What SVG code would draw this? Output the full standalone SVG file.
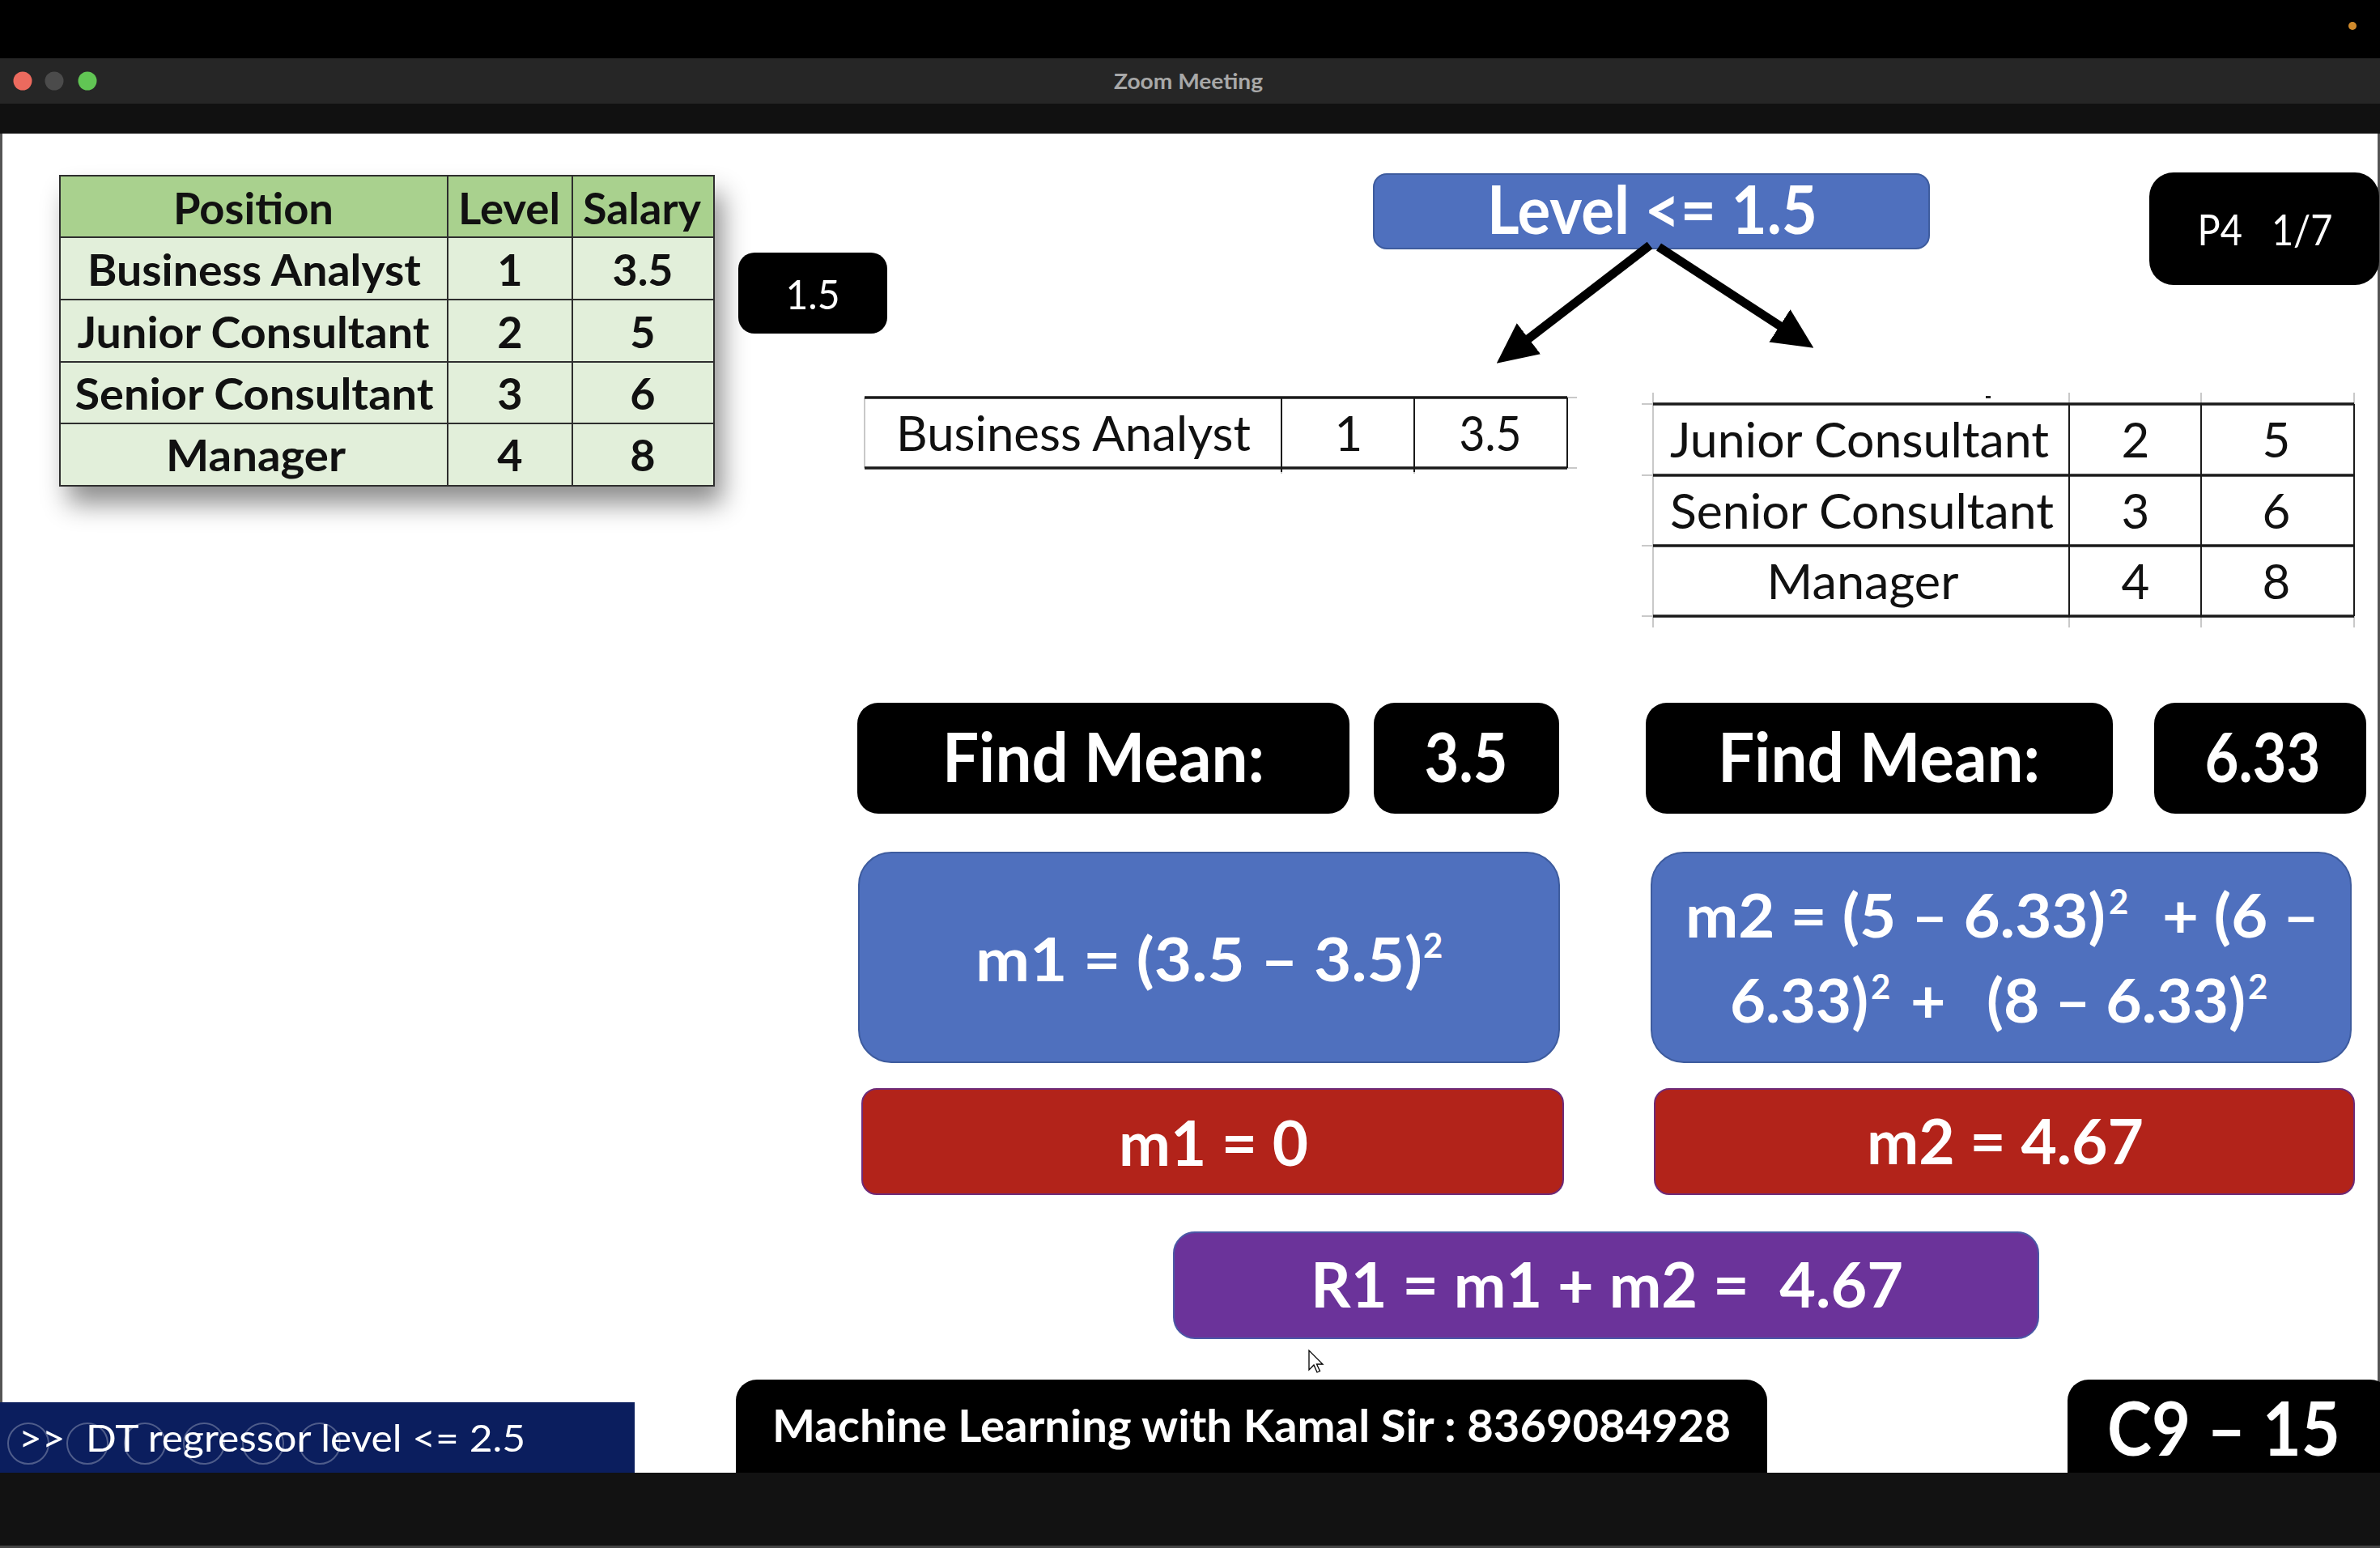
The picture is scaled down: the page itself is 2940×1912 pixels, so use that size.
<svg xmlns="http://www.w3.org/2000/svg" width="2940" height="1912" viewBox="0 0 2940 1912">
<defs>
<style>
text{font-family:Lato,"Liberation Sans",sans-serif}
.b{font-weight:700}
.w{fill:#fff}
.d{fill:#111}
.m{text-anchor:middle}
.blk{fill:#000}
.blue{fill:#4f70be;stroke:#3e5c9e;stroke-width:2}
.red{fill:#b2231a;stroke:#6e2a78;stroke-width:2}
.grid{stroke:#2e2e2e;stroke-width:2;fill:none}
.thick{stroke:#1a1a1a;stroke-width:3.5}
.thin{stroke:#1a1a1a;stroke-width:2}
.faint{stroke:#c9c9c9;stroke-width:2}
.arrow{stroke:#000;stroke-width:11;fill:none}
.ring{fill:none;stroke:#fff;stroke-opacity:0.28;stroke-width:2}
</style>
<filter id="sh" x="-10%" y="-10%" width="130%" height="150%"><feDropShadow dx="10" dy="22" stdDeviation="16" flood-color="#000" flood-opacity="0.45"/></filter>
<marker id="ah" markerUnits="userSpaceOnUse" markerWidth="50" markerHeight="48" viewBox="0 0 50 48" refX="3" refY="24" orient="auto"><path d="M0,0 L50,24 L0,48 Z" fill="#000"/></marker>
</defs>

<!-- window chrome -->
<g id="chrome">
<rect x="0" y="0" width="2940" height="72" fill="#000"/>
<circle cx="2906" cy="32" r="5" fill="#d08a2c"/>
<rect x="0" y="72" width="2940" height="56" fill="#262626"/>
<circle cx="28" cy="100" r="11.5" fill="#ec6a5e"/>
<circle cx="67" cy="100" r="11.5" fill="#4b4b4b"/>
<circle cx="108" cy="100" r="11.5" fill="#61c554"/>
<text x="1468" y="110" class="m b" font-size="27" fill="#a8a8a8" textLength="184" lengthAdjust="spacingAndGlyphs">Zoom Meeting</text>
<rect x="0" y="128" width="2940" height="37" fill="#111"/>
<rect x="0" y="165" width="2940" height="1654" fill="#fff"/>
<rect x="0" y="165" width="3" height="1654" fill="#555"/>
<rect x="2937" y="165" width="3" height="1654" fill="#555"/>
</g>

<!-- source table -->
<g id="source-table">
<rect x="74" y="217" width="808" height="383" fill="#e2efda" filter="url(#sh)"/>
<rect x="74" y="217" width="808" height="76" fill="#a9d18e"/>
<rect x="74" y="217" width="808" height="383" class="grid"/>
<path class="grid" d="M553,217V600M707,217V600M74,293H882M74,370H882M74,447H882M74,523H882"/>
<text x="313" y="277" class="m b d" font-size="54" textLength="198" lengthAdjust="spacingAndGlyphs">Position</text>
<text x="629" y="277" class="m b d" font-size="54" textLength="126" lengthAdjust="spacingAndGlyphs">Level</text>
<text x="793" y="277" class="m b d" font-size="54" textLength="146" lengthAdjust="spacingAndGlyphs">Salary</text>
<text x="314" y="353" class="m b d" font-size="54" textLength="412" lengthAdjust="spacingAndGlyphs">Business Analyst</text>
<text x="313" y="430" class="m b d" font-size="54" textLength="435" lengthAdjust="spacingAndGlyphs">Junior Consultant</text>
<text x="314" y="506" class="m b d" font-size="54" textLength="443" lengthAdjust="spacingAndGlyphs">Senior Consultant</text>
<text x="316" y="582" class="m b d" font-size="54" textLength="222" lengthAdjust="spacingAndGlyphs">Manager</text>
<text x="630" y="353" class="m b d" font-size="54">1</text>
<text x="630" y="430" class="m b d" font-size="54">2</text>
<text x="630" y="506" class="m b d" font-size="54">3</text>
<text x="630" y="582" class="m b d" font-size="54">4</text>
<text x="794" y="353" class="m b d" font-size="54" textLength="75" lengthAdjust="spacingAndGlyphs">3.5</text>
<text x="794" y="430" class="m b d" font-size="54">5</text>
<text x="794" y="506" class="m b d" font-size="54">6</text>
<text x="794" y="582" class="m b d" font-size="54">8</text>
</g>

<g id="threshold">
<rect x="912" y="312" width="184" height="100" rx="20" class="blk"/>
<text x="1004" y="382" class="m w" font-size="50" textLength="67" lengthAdjust="spacingAndGlyphs">1.5</text>
</g>

<g id="split-node">
<rect x="1697" y="215" width="686" height="92" rx="16" class="blue"/>
<text x="2041" y="289" class="m b w" font-size="82" textLength="408" lengthAdjust="spacingAndGlyphs">Level &lt;= 1.5</text>
</g>

<g id="page-tag">
<rect x="2655" y="213" width="284" height="139" rx="30" class="blk"/>
<text x="2798" y="303" class="m w" font-size="52" xml:space="preserve" textLength="167" lengthAdjust="spacingAndGlyphs">P4   1/7</text>
</g>

<g id="connectors">
<path class="arrow" d="M2038,303 L1886,420" marker-end="url(#ah)"/>
<path class="arrow" d="M2049,305 L2201,404" marker-end="url(#ah)"/>
</g>

<g id="left-table">
<path class="faint" d="M1068,491V578M1936,491H1948M1936,578H1948M1583,578V585M1747,578V585"/>
<path class="thick" d="M1068,491H1936M1068,578H1936"/>
<path class="thin" d="M1583,491V583M1747,491V583M1936,491V578"/>
<text x="1326" y="557" class="m d" font-size="60" textLength="438" lengthAdjust="spacingAndGlyphs">Business Analyst</text>
<text x="1666" y="557" class="m d" font-size="60">1</text>
<text x="1841" y="557" class="m d" font-size="60" textLength="77" lengthAdjust="spacingAndGlyphs">3.5</text>
</g>

<g id="right-table">
<rect x="2453" y="489" width="6" height="3" fill="#222"/>
<path class="faint" d="M2042,485V775M2556,485V499M2719,485V499M2908,485V499M2556,761V775M2719,761V775M2908,761V775M2028,499H2042M2028,587H2042M2028,674H2042M2028,761H2042"/>
<path class="thick" d="M2042,499H2908M2042,587H2908M2042,674H2908M2042,761H2908"/>
<path class="thin" d="M2556,499V761M2719,499V761M2908,499V761"/>
<text x="2297" y="565" class="m d" font-size="60" textLength="468" lengthAdjust="spacingAndGlyphs">Junior Consultant</text>
<text x="2300" y="653" class="m d" font-size="60" textLength="474" lengthAdjust="spacingAndGlyphs">Senior Consultant</text>
<text x="2301" y="740" class="m d" font-size="60" textLength="237" lengthAdjust="spacingAndGlyphs">Manager</text>
<text x="2638" y="565" class="m d" font-size="60">2</text>
<text x="2638" y="653" class="m d" font-size="60">3</text>
<text x="2638" y="740" class="m d" font-size="60">4</text>
<text x="2812" y="565" class="m d" font-size="60">5</text>
<text x="2812" y="653" class="m d" font-size="60">6</text>
<text x="2812" y="740" class="m d" font-size="60">8</text>
</g>

<g id="mean-left">
<rect x="1059" y="868" width="608" height="137" rx="26" class="blk"/>
<text x="1363" y="966" class="m b w" font-size="85" textLength="398" lengthAdjust="spacingAndGlyphs">Find Mean:</text>
<rect x="1697" y="868" width="229" height="137" rx="26" class="blk"/>
<text x="1811" y="966" class="m b w" font-size="85" textLength="103" lengthAdjust="spacingAndGlyphs">3.5</text>
</g>

<g id="mean-right">
<rect x="2033" y="868" width="577" height="137" rx="26" class="blk"/>
<text x="2321" y="966" class="m b w" font-size="85" textLength="398" lengthAdjust="spacingAndGlyphs">Find Mean:</text>
<rect x="2661" y="868" width="262" height="137" rx="26" class="blk"/>
<text x="2795" y="966" class="m b w" font-size="85" textLength="143" lengthAdjust="spacingAndGlyphs">6.33</text>
</g>

<g id="m1-formula">
<rect x="1061" y="1053" width="865" height="259" rx="40" class="blue"/>
<text x="1205" y="1212" class="b w" font-size="75" textLength="552" lengthAdjust="spacingAndGlyphs">m1 = (3.5 – 3.5)</text>
<text x="1758" y="1183" class="b w" font-size="42">2</text>
</g>

<g id="m2-formula">
<rect x="2040" y="1053" width="864" height="259" rx="40" class="blue"/>
<text x="2082" y="1158" class="b w" font-size="75" textLength="519" lengthAdjust="spacingAndGlyphs">m2 = (5 – 6.33)</text>
<text x="2605" y="1129" class="b w" font-size="42">2</text>
<text x="2671" y="1158" class="b w" font-size="75" textLength="194" lengthAdjust="spacingAndGlyphs">+ (6 –</text>
<text x="2137" y="1263" class="b w" font-size="75" textLength="171" lengthAdjust="spacingAndGlyphs">6.33)</text>
<text x="2311" y="1234" class="b w" font-size="42">2</text>
<text x="2360" y="1263" class="b w" font-size="75">+</text>
<text x="2454" y="1263" class="b w" font-size="75" textLength="320" lengthAdjust="spacingAndGlyphs">(8 – 6.33)</text>
<text x="2777" y="1234" class="b w" font-size="42">2</text>
</g>

<g id="m1-result">
<rect x="1065" y="1345" width="866" height="130" rx="18" class="red"/>
<text x="1499" y="1440" class="m b w" font-size="77" textLength="234" lengthAdjust="spacingAndGlyphs">m1 = 0</text>
</g>

<g id="m2-result">
<rect x="2044" y="1345" width="864" height="130" rx="18" class="red"/>
<text x="2477" y="1438" class="m b w" font-size="77" textLength="342" lengthAdjust="spacingAndGlyphs">m2 = 4.67</text>
</g>

<g id="r1-result">
<rect x="1450" y="1522" width="1068" height="131" rx="26" fill="#6b339a" stroke="#4b58a6" stroke-width="2"/>
<text x="1985" y="1615" class="m b w" font-size="76" xml:space="preserve" textLength="732" lengthAdjust="spacingAndGlyphs">R1 = m1 + m2 =  4.67</text>
</g>

<g id="cursor">
<path d="M1617,1668 L1617,1692 L1623,1686 L1627,1695 L1630.5,1693.5 L1626.5,1685 L1634,1685 Z" fill="#fff" stroke="#000" stroke-width="1.3"/>
</g>

<g id="footer">
<rect x="909" y="1704" width="1274" height="150" rx="26" class="blk"/>
<text x="1546" y="1781" class="m b w" font-size="56" textLength="1184" lengthAdjust="spacingAndGlyphs">Machine Learning with Kamal Sir : 8369084928</text>
<rect x="2554" y="1704" width="400" height="150" rx="26" class="blk"/>
<text x="2747" y="1798" class="m b w" font-size="92" textLength="288" lengthAdjust="spacingAndGlyphs">C9 – 15</text>
<rect x="0" y="1732" width="784" height="87" fill="#0b1e5e"/>
<circle cx="35" cy="1783" r="25" class="ring"/>
<circle cx="108" cy="1783" r="25" class="ring"/>
<circle cx="179" cy="1783" r="25" class="ring"/>
<circle cx="252" cy="1783" r="25" class="ring"/>
<circle cx="325" cy="1783" r="25" class="ring"/>
<circle cx="395" cy="1783" r="25" class="ring"/>
<text x="23" y="1793" class="w" font-size="47" xml:space="preserve" textLength="626" lengthAdjust="spacingAndGlyphs">&gt;&gt;  DT regressor level &lt;= 2.5</text>
<rect x="0" y="1819" width="2940" height="93" fill="#121212"/>
<rect x="0" y="1909" width="2940" height="3" fill="#444"/>
</g>
</svg>
